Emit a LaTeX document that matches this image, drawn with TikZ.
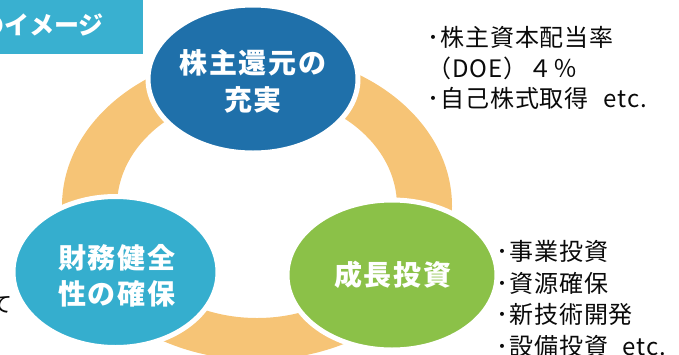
\documentclass[tikz,border=0pt]{standalone}
\usepackage{fontspec}
\setmainfont{Noto Sans CJK JP}
\newfontfamily\jpl[LetterSpace=4]{Noto Sans CJK JP}
\newfontfamily\jpb[LetterSpace=7]{Noto Sans CJK JP}
\newfontfamily\jpk{Noto Sans CJK JP}
\usetikzlibrary{shapes.geometric}
\definecolor{cblue}{RGB}{31,112,170}
\definecolor{cteal}{RGB}{53,174,206}
\definecolor{cgreen}{RGB}{139,193,72}
\definecolor{corange}{RGB}{246,196,118}
\definecolor{cbox}{RGB}{57,176,208}
\definecolor{ctext}{RGB}{10,10,10}
\tikzset{
  bub/.style={ellipse, draw=white, line width=5pt, inner sep=0pt},
  lbl/.style={text=white, font=\jpb\bfseries\fontsize{28}{37}\selectfont, anchor=base, inner sep=0pt},
  side/.style={text=ctext, font=\jpl\fontsize{24}{31}\selectfont, anchor=base west, inner sep=0pt},
}
\begin{document}
\begin{tikzpicture}[x=1pt,y=-1pt]
\clip (0,0) rectangle (679,354);
% title box
\fill[cbox] (0,0) rectangle (143,54);
\node[text=white, font=\jpk\bfseries\fontsize{25}{28}\selectfont, anchor=base east, inner sep=0pt] (title) at (104,34) {のイメージ};
% ring
\fill[corange, even odd rule] (257,206) ellipse [x radius=195pt, y radius=154pt]
  (257,206) ellipse [x radius=140pt, y radius=112pt];
% bubbles
\node[bub, fill=cblue, minimum width=210pt, minimum height=148pt] (sh) at (253,79) {};
\node[bub, fill=cteal, minimum width=205pt, minimum height=151pt] (fin) at (115.5,272) {};
\node[bub, fill=cgreen, minimum width=210pt, minimum height=150pt] (gr) at (392,275) {};
% labels
\node[lbl] (sh1) at (253,73) {株主還元の};
\node[lbl] (sh2) at (253,110) {充実};
\node[lbl] (fin1) at (117,268) {財務健全};
\node[lbl] (fin2) at (117,304) {性の確保};
\node[lbl] (gr1) at (393,285) {成長投資};
% side texts
\node[side] (a1) at (427,46) {･株主資本配当率};
\node[side] (a2) at (427,77) {（DOE）４％};
\node[side] (a3) at (427,107) {･自己株式取得\hspace{0.6em}etc.};
\node[side] (b1) at (496,260) {･事業投資};
\node[side] (b2) at (496,292) {･資源確保};
\node[side] (b3) at (496,323) {･新技術開発};
\node[side] (b4) at (496,355) {･設備投資\hspace{0.6em}etc.};
\node[side, font=\jpk\fontsize{22}{31}\selectfont] (te) at (-10,312) {て};
\end{tikzpicture}
\end{document}
